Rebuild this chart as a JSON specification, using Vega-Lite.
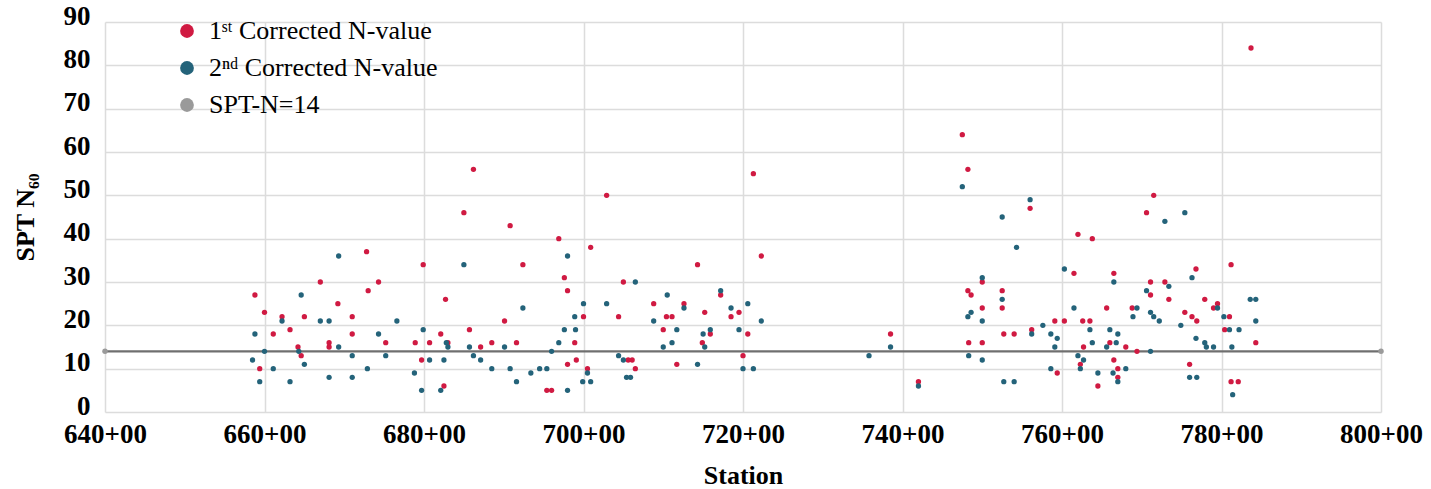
{
  "$schema": "https://vega.github.io/schema/vega-lite/v6.json",
  "width": 1276,
  "height": 390,
  "autosize": {"type": "none"},
  "padding": {"left": 105, "top": 22, "right": 50, "bottom": 77},
  "background": "white",
  "config": {
    "view": {"stroke": null},
    "font": "Liberation Serif",
    "axis": {
      "labelFont": "Liberation Serif",
      "labelFontWeight": "bold",
      "labelFontSize": 27,
      "labelColor": "#000000",
      "titleFont": "Liberation Serif",
      "titleFontWeight": "bold",
      "titleFontSize": 26,
      "titleColor": "#000000",
      "grid": true,
      "gridColor": "#dcdcdc",
      "gridWidth": 1.5,
      "domain": false,
      "ticks": false,
      "labelFlush": false
    },
    "legend": {
      "labelFont": "Liberation Serif",
      "labelFontSize": 26,
      "labelColor": "#000000",
      "labelLimit": 0,
      "symbolType": "circle",
      "symbolSize": 190,
      "symbolStrokeWidth": 0,
      "padding": 0,
      "rowPadding": 11,
      "labelOffset": 9
    }
  },
  "datasets": {
    "pts": [
      {"s": 658.8, "n": 27, "k": "a"}, {"s": 659.4, "n": 10, "k": "a"}, {"s": 660.0, "n": 23, "k": "a"},
      {"s": 661.1, "n": 18, "k": "a"}, {"s": 662.2, "n": 22, "k": "a"}, {"s": 663.2, "n": 19, "k": "a"},
      {"s": 664.2, "n": 15, "k": "a"}, {"s": 664.6, "n": 13, "k": "a"}, {"s": 665.0, "n": 22, "k": "a"},
      {"s": 667.0, "n": 30, "k": "a"}, {"s": 668.1, "n": 16, "k": "a"}, {"s": 668.1, "n": 15, "k": "a"},
      {"s": 669.2, "n": 25, "k": "a"}, {"s": 671.0, "n": 22, "k": "a"}, {"s": 671.0, "n": 18, "k": "a"},
      {"s": 672.8, "n": 37, "k": "a"}, {"s": 673.0, "n": 28, "k": "a"}, {"s": 674.3, "n": 30, "k": "a"},
      {"s": 675.2, "n": 16, "k": "a"}, {"s": 678.9, "n": 16, "k": "a"}, {"s": 679.9, "n": 34, "k": "a"},
      {"s": 679.7, "n": 12, "k": "a"}, {"s": 680.7, "n": 16, "k": "a"}, {"s": 682.1, "n": 18, "k": "a"},
      {"s": 682.5, "n": 6, "k": "a"}, {"s": 682.7, "n": 26, "k": "a"}, {"s": 683.0, "n": 16, "k": "a"},
      {"s": 685.0, "n": 46, "k": "a"}, {"s": 686.2, "n": 56, "k": "a"}, {"s": 685.7, "n": 19, "k": "a"},
      {"s": 687.1, "n": 15, "k": "a"}, {"s": 688.5, "n": 16, "k": "a"}, {"s": 690.1, "n": 21, "k": "a"},
      {"s": 690.8, "n": 43, "k": "a"}, {"s": 691.6, "n": 16, "k": "a"}, {"s": 692.4, "n": 34, "k": "a"},
      {"s": 695.4, "n": 5, "k": "a"}, {"s": 696.0, "n": 5, "k": "a"}, {"s": 696.9, "n": 40, "k": "a"},
      {"s": 697.6, "n": 31, "k": "a"}, {"s": 698.0, "n": 28, "k": "a"}, {"s": 698.0, "n": 11, "k": "a"},
      {"s": 698.9, "n": 16, "k": "a"}, {"s": 699.1, "n": 12, "k": "a"}, {"s": 700.0, "n": 22, "k": "a"},
      {"s": 700.5, "n": 10, "k": "a"}, {"s": 700.9, "n": 38, "k": "a"}, {"s": 702.9, "n": 50, "k": "a"},
      {"s": 704.4, "n": 22, "k": "a"}, {"s": 705.0, "n": 30, "k": "a"}, {"s": 705.6, "n": 12, "k": "a"},
      {"s": 706.1, "n": 12, "k": "a"}, {"s": 706.5, "n": 10, "k": "a"}, {"s": 708.8, "n": 25, "k": "a"},
      {"s": 710.0, "n": 19, "k": "a"}, {"s": 710.4, "n": 22, "k": "a"}, {"s": 711.1, "n": 22, "k": "a"},
      {"s": 711.7, "n": 11, "k": "a"}, {"s": 712.6, "n": 25, "k": "a"}, {"s": 714.3, "n": 34, "k": "a"},
      {"s": 715.2, "n": 23, "k": "a"}, {"s": 714.9, "n": 16, "k": "a"}, {"s": 715.9, "n": 18, "k": "a"},
      {"s": 717.2, "n": 27, "k": "a"}, {"s": 718.5, "n": 22, "k": "a"}, {"s": 719.5, "n": 23, "k": "a"},
      {"s": 720.0, "n": 13, "k": "a"}, {"s": 720.6, "n": 18, "k": "a"}, {"s": 721.3, "n": 55, "k": "a"},
      {"s": 722.3, "n": 36, "k": "a"}, {"s": 738.5, "n": 18, "k": "a"}, {"s": 742.0, "n": 7, "k": "a"},
      {"s": 747.5, "n": 64, "k": "a"}, {"s": 748.2, "n": 56, "k": "a"}, {"s": 748.2, "n": 28, "k": "a"},
      {"s": 748.6, "n": 27, "k": "a"}, {"s": 748.3, "n": 16, "k": "a"}, {"s": 750.0, "n": 30, "k": "a"},
      {"s": 750.0, "n": 24, "k": "a"}, {"s": 750.0, "n": 16, "k": "a"}, {"s": 752.5, "n": 28, "k": "a"},
      {"s": 752.5, "n": 24, "k": "a"}, {"s": 752.7, "n": 18, "k": "a"}, {"s": 754.0, "n": 18, "k": "a"},
      {"s": 756.0, "n": 47, "k": "a"}, {"s": 756.2, "n": 19, "k": "a"}, {"s": 759.1, "n": 21, "k": "a"},
      {"s": 759.4, "n": 9, "k": "a"}, {"s": 760.3, "n": 21, "k": "a"}, {"s": 761.5, "n": 32, "k": "a"},
      {"s": 762.0, "n": 41, "k": "a"}, {"s": 762.6, "n": 21, "k": "a"}, {"s": 762.7, "n": 15, "k": "a"},
      {"s": 762.3, "n": 11, "k": "a"}, {"s": 763.5, "n": 21, "k": "a"}, {"s": 763.8, "n": 40, "k": "a"},
      {"s": 764.5, "n": 6, "k": "a"}, {"s": 765.6, "n": 24, "k": "a"}, {"s": 766.0, "n": 16, "k": "a"},
      {"s": 766.5, "n": 32, "k": "a"}, {"s": 766.5, "n": 12, "k": "a"}, {"s": 767.0, "n": 10, "k": "a"},
      {"s": 767.0, "n": 8, "k": "a"}, {"s": 768.0, "n": 15, "k": "a"}, {"s": 768.8, "n": 24, "k": "a"},
      {"s": 769.4, "n": 14, "k": "a"}, {"s": 770.6, "n": 46, "k": "a"}, {"s": 771.1, "n": 30, "k": "a"},
      {"s": 771.1, "n": 27, "k": "a"}, {"s": 771.5, "n": 50, "k": "a"}, {"s": 772.9, "n": 30, "k": "a"},
      {"s": 773.4, "n": 26, "k": "a"}, {"s": 775.4, "n": 23, "k": "a"}, {"s": 776.3, "n": 22, "k": "a"},
      {"s": 776.9, "n": 21, "k": "a"}, {"s": 776.8, "n": 33, "k": "a"}, {"s": 776.0, "n": 11, "k": "a"},
      {"s": 777.9, "n": 26, "k": "a"}, {"s": 779.0, "n": 24, "k": "a"}, {"s": 779.5, "n": 25, "k": "a"},
      {"s": 781.0, "n": 22, "k": "a"}, {"s": 780.4, "n": 19, "k": "a"}, {"s": 781.2, "n": 34, "k": "a"},
      {"s": 781.2, "n": 7, "k": "a"}, {"s": 782.1, "n": 7, "k": "a"}, {"s": 784.3, "n": 16, "k": "a"},
      {"s": 783.7, "n": 84, "k": "a"},
      {"s": 658.8, "n": 18, "k": "b"}, {"s": 658.5, "n": 12, "k": "b"}, {"s": 659.4, "n": 7, "k": "b"},
      {"s": 660.0, "n": 14, "k": "b"}, {"s": 661.1, "n": 10, "k": "b"}, {"s": 662.2, "n": 21, "k": "b"},
      {"s": 663.2, "n": 7, "k": "b"}, {"s": 664.3, "n": 14, "k": "b"}, {"s": 665.0, "n": 11, "k": "b"},
      {"s": 664.6, "n": 27, "k": "b"}, {"s": 667.0, "n": 21, "k": "b"}, {"s": 668.1, "n": 21, "k": "b"},
      {"s": 668.1, "n": 8, "k": "b"}, {"s": 669.3, "n": 15, "k": "b"}, {"s": 669.3, "n": 36, "k": "b"},
      {"s": 671.0, "n": 13, "k": "b"}, {"s": 671.0, "n": 8, "k": "b"}, {"s": 672.9, "n": 10, "k": "b"},
      {"s": 674.3, "n": 18, "k": "b"}, {"s": 675.2, "n": 13, "k": "b"}, {"s": 676.6, "n": 21, "k": "b"},
      {"s": 678.8, "n": 9, "k": "b"}, {"s": 679.9, "n": 19, "k": "b"}, {"s": 679.7, "n": 5, "k": "b"},
      {"s": 680.7, "n": 12, "k": "b"}, {"s": 682.5, "n": 12, "k": "b"}, {"s": 682.1, "n": 5, "k": "b"},
      {"s": 682.8, "n": 16, "k": "b"}, {"s": 683.0, "n": 15, "k": "b"}, {"s": 685.0, "n": 34, "k": "b"},
      {"s": 685.7, "n": 15, "k": "b"}, {"s": 686.2, "n": 13, "k": "b"}, {"s": 687.1, "n": 12, "k": "b"},
      {"s": 688.5, "n": 10, "k": "b"}, {"s": 690.1, "n": 15, "k": "b"}, {"s": 690.8, "n": 10, "k": "b"},
      {"s": 691.6, "n": 7, "k": "b"}, {"s": 692.4, "n": 24, "k": "b"}, {"s": 693.4, "n": 9, "k": "b"},
      {"s": 694.5, "n": 10, "k": "b"}, {"s": 695.4, "n": 10, "k": "b"}, {"s": 696.0, "n": 14, "k": "b"},
      {"s": 696.9, "n": 16, "k": "b"}, {"s": 698.0, "n": 36, "k": "b"}, {"s": 697.6, "n": 19, "k": "b"},
      {"s": 698.0, "n": 5, "k": "b"}, {"s": 698.9, "n": 22, "k": "b"}, {"s": 699.0, "n": 19, "k": "b"},
      {"s": 699.9, "n": 7, "k": "b"}, {"s": 700.0, "n": 25, "k": "b"}, {"s": 700.9, "n": 7, "k": "b"},
      {"s": 700.5, "n": 9, "k": "b"}, {"s": 702.9, "n": 25, "k": "b"}, {"s": 704.4, "n": 13, "k": "b"},
      {"s": 705.0, "n": 12, "k": "b"}, {"s": 705.4, "n": 8, "k": "b"}, {"s": 705.9, "n": 8, "k": "b"},
      {"s": 706.5, "n": 30, "k": "b"}, {"s": 708.8, "n": 21, "k": "b"}, {"s": 710.5, "n": 27, "k": "b"},
      {"s": 711.7, "n": 19, "k": "b"}, {"s": 711.1, "n": 16, "k": "b"}, {"s": 710.0, "n": 15, "k": "b"},
      {"s": 712.6, "n": 24, "k": "b"}, {"s": 714.3, "n": 11, "k": "b"}, {"s": 715.0, "n": 18, "k": "b"},
      {"s": 715.2, "n": 15, "k": "b"}, {"s": 715.9, "n": 19, "k": "b"}, {"s": 717.2, "n": 28, "k": "b"},
      {"s": 718.5, "n": 24, "k": "b"}, {"s": 719.5, "n": 19, "k": "b"}, {"s": 720.6, "n": 25, "k": "b"},
      {"s": 720.0, "n": 10, "k": "b"}, {"s": 721.3, "n": 10, "k": "b"}, {"s": 722.3, "n": 21, "k": "b"},
      {"s": 735.8, "n": 13, "k": "b"}, {"s": 738.5, "n": 15, "k": "b"}, {"s": 742.0, "n": 6, "k": "b"},
      {"s": 747.5, "n": 52, "k": "b"}, {"s": 756.0, "n": 49, "k": "b"}, {"s": 752.5, "n": 45, "k": "b"},
      {"s": 754.3, "n": 38, "k": "b"}, {"s": 750.0, "n": 31, "k": "b"}, {"s": 752.5, "n": 26, "k": "b"},
      {"s": 748.2, "n": 22, "k": "b"}, {"s": 748.6, "n": 23, "k": "b"}, {"s": 750.0, "n": 21, "k": "b"},
      {"s": 748.3, "n": 13, "k": "b"}, {"s": 750.0, "n": 12, "k": "b"}, {"s": 752.7, "n": 7, "k": "b"},
      {"s": 754.0, "n": 7, "k": "b"}, {"s": 756.2, "n": 18, "k": "b"}, {"s": 757.6, "n": 20, "k": "b"},
      {"s": 758.6, "n": 18, "k": "b"}, {"s": 759.4, "n": 17, "k": "b"}, {"s": 759.1, "n": 15, "k": "b"},
      {"s": 758.6, "n": 10, "k": "b"}, {"s": 760.3, "n": 33, "k": "b"}, {"s": 761.5, "n": 24, "k": "b"},
      {"s": 763.5, "n": 19, "k": "b"}, {"s": 763.8, "n": 16, "k": "b"}, {"s": 762.0, "n": 13, "k": "b"},
      {"s": 762.7, "n": 12, "k": "b"}, {"s": 762.3, "n": 10, "k": "b"}, {"s": 764.5, "n": 9, "k": "b"},
      {"s": 766.0, "n": 19, "k": "b"}, {"s": 765.6, "n": 15, "k": "b"}, {"s": 766.5, "n": 30, "k": "b"},
      {"s": 767.0, "n": 18, "k": "b"}, {"s": 766.8, "n": 16, "k": "b"}, {"s": 766.4, "n": 9, "k": "b"},
      {"s": 767.0, "n": 7, "k": "b"}, {"s": 768.0, "n": 10, "k": "b"}, {"s": 768.9, "n": 22, "k": "b"},
      {"s": 769.4, "n": 24, "k": "b"}, {"s": 771.1, "n": 14, "k": "b"}, {"s": 770.6, "n": 28, "k": "b"},
      {"s": 771.1, "n": 23, "k": "b"}, {"s": 771.5, "n": 22, "k": "b"}, {"s": 772.2, "n": 21, "k": "b"},
      {"s": 772.9, "n": 44, "k": "b"}, {"s": 775.4, "n": 46, "k": "b"}, {"s": 773.4, "n": 29, "k": "b"},
      {"s": 774.9, "n": 20, "k": "b"}, {"s": 776.3, "n": 31, "k": "b"}, {"s": 776.8, "n": 17, "k": "b"},
      {"s": 777.9, "n": 16, "k": "b"}, {"s": 778.1, "n": 15, "k": "b"}, {"s": 779.0, "n": 15, "k": "b"},
      {"s": 776.0, "n": 8, "k": "b"}, {"s": 776.9, "n": 8, "k": "b"}, {"s": 779.5, "n": 24, "k": "b"},
      {"s": 780.3, "n": 22, "k": "b"}, {"s": 781.0, "n": 19, "k": "b"}, {"s": 782.2, "n": 19, "k": "b"},
      {"s": 781.3, "n": 15, "k": "b"}, {"s": 781.4, "n": 4, "k": "b"}, {"s": 783.6, "n": 26, "k": "b"},
      {"s": 784.3, "n": 26, "k": "b"}, {"s": 784.3, "n": 21, "k": "b"}
    ],
    "ref": [
      {"s": 640, "n": 14, "k": "c"},
      {"s": 800, "n": 14, "k": "c"}
    ]
  },
  "layer": [
    {
      "data": {"name": "ref"},
      "mark": {"type": "line", "stroke": "#6f6f6f", "strokeWidth": 2.2},
      "encoding": {
        "x": {
          "field": "s", "type": "quantitative",
          "scale": {"domain": [640, 800], "nice": false, "zero": false},
          "axis": {
            "values": [640, 660, 680, 700, 720, 740, 760, 780, 800],
            "labelExpr": "datum.value + '+00'",
            "title": "Station",
            "labelPadding": 9,
            "titlePadding": 15
          }
        },
        "y": {
          "field": "n", "type": "quantitative",
          "scale": {"domain": [0, 90], "nice": false},
          "axis": {
            "values": [0, 10, 20, 30, 40, 50, 60, 70, 80, 90],
            "title": "SPT N₆₀",
            "labelPadding": 15,
            "labelOffset": -6,
            "titlePadding": 25
          }
        }
      }
    },
    {
      "data": {"name": "pts"},
      "mark": {"type": "point", "filled": true, "size": 28, "opacity": 1},
      "encoding": {
        "x": {"field": "s", "type": "quantitative"},
        "y": {"field": "n", "type": "quantitative"},
        "color": {
          "field": "k", "type": "nominal",
          "scale": {"domain": ["a", "b", "c"], "range": ["#D01A42", "#24637A", "#9A9A9A"]},
          "legend": {
            "title": null,
            "orient": "none",
            "legendX": 69,
            "legendY": -4,
            "labelExpr": "datum.label == 'a' ? '1ˢᵗ Corrected N-value' : datum.label == 'b' ? '2ⁿᵈ Corrected N-value' : 'SPT-N=14'"
          }
        }
      }
    },
    {
      "data": {"name": "ref"},
      "mark": {"type": "point", "filled": true, "size": 30, "opacity": 1},
      "encoding": {
        "x": {"field": "s", "type": "quantitative"},
        "y": {"field": "n", "type": "quantitative"},
        "color": {"field": "k", "type": "nominal"}
      }
    }
  ]
}
